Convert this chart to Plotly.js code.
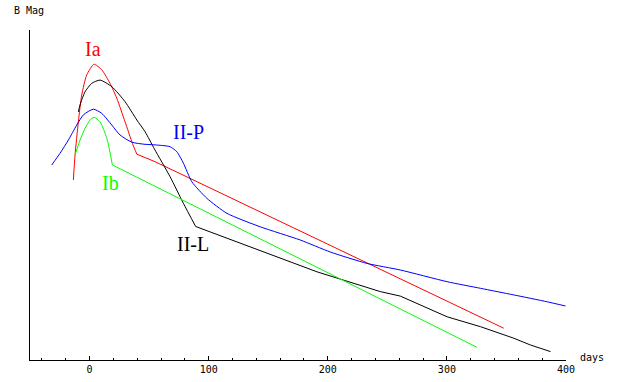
<!DOCTYPE html>
<html>
<head>
<meta charset="utf-8">
<script src="https://cdn.plot.ly/plotly-3.0.1.min.js"></script>
<style>html,body{margin:0;padding:0;background:#fff;}#chart{width:620px;height:382px;}</style>
</head>
<body>
<div id="chart"></div>
<script>
// Light curves: days since maximum vs absolute B magnitude
const iaDays  = [-13.6, -12.2, -9.4, -6.6, -2.4, 3.8, 10.3, 17.2, 22.9, 29.8, 36.0, 39.7, 55.0, 347.7];
const iaMag   = [-16.0, -16.83, -17.94, -18.83, -19.5, -19.86, -19.67, -19.22, -18.72, -17.94, -17.22, -16.86, -16.61, -11.06];

const iilDays = [-9.4, -8.0, -3.8, 1.8, 8.8, 18.7, 29.8, 39.7, 46.6, 54.5, 67.6, 78.8, 89.1, 123.7, 190.9, 244.1, 260.9, 300.2, 328.2, 355.9, 370.2, 387.0];
const iilMag  = [-18.27, -18.5, -18.94, -19.22, -19.33, -19.11, -18.61, -18.0, -17.61, -17.03, -16.11, -15.22, -14.45, -13.94, -12.94, -12.28, -12.13, -11.44, -11.11, -10.73, -10.5, -10.28];

const iipDays = [-31.8, -24.8, -17.8, -10.8, -5.2, 3.2, 10.3, 18.7, 25.6, 35.5, 46.6, 55.0, 67.6, 73.3, 78.8, 85.9, 98.5, 115.3, 143.3, 176.9, 202.1, 232.9, 260.9, 300.2, 328.2, 356.1, 384.2, 399.6];
const iipMag  = [-16.5, -16.89, -17.33, -17.83, -18.17, -18.36, -18.22, -17.83, -17.5, -17.26, -17.19, -17.17, -17.11, -16.94, -16.56, -15.94, -15.39, -14.89, -14.44, -14.0, -13.6, -13.22, -13.0, -12.61, -12.39, -12.17, -11.94, -11.8];

const ibDays  = [-12.2, -8.0, -3.8, 0.4, 3.8, 8.8, 14.5, 19.2, 325.4];
const ibMag   = [-16.83, -17.33, -17.72, -18.0, -18.09, -17.94, -17.39, -16.5, -10.42];

const seriesNames = ['Ia', 'II-L', 'II-P', 'Ib'];
const kneeDays = [39.7, 89.1, null, 19.2];   // where the smooth early part ends and the straight decline starts
const colors = ['#ff0000', '#000000', '#0000ff', '#00ff00'];
const xTickVals = [0, 100, 200, 300, 400];
const xTickText = ['0', '100', '200', '300', '400'];

const W = 620, H = 382, mL = 30, mR = 54, mT = 30, mB = 22;
const pw = W - mL - mR, ph = H - mT - mB;
const px = v => (v - mL) / pw;
const py = v => (H - mB - v) / ph;

const allX = [iaDays, iilDays, iipDays, ibDays];
const allY = [iaMag, iilMag, iipMag, ibMag];
const traces = [];
allX.forEach((xs, i) => {
  const ys = allY[i];
  const k = kneeDays[i] === null ? xs.length - 1 : xs.indexOf(kneeDays[i]);
  traces.push({type: 'scatter', mode: 'lines', hoverinfo: 'skip', name: seriesNames[i],
    x: xs.slice(0, k + 1), y: ys.slice(0, k + 1),
    line: {color: colors[i], width: 1, shape: 'spline', smoothing: 0.6}});
  if (k < xs.length - 1) {
    traces.push({type: 'scatter', mode: 'lines', hoverinfo: 'skip', name: seriesNames[i],
      x: xs.slice(k), y: ys.slice(k),
      line: {color: colors[i], width: 1, shape: 'linear'}});
  }
});

const serif = 'Liberation Serif, Times New Roman, serif';
const mono = 'DejaVu Sans Mono, monospace';

const layout = {
  width: W, height: H,
  margin: {l: mL, r: mR, t: mT, b: mB, pad: 0},
  paper_bgcolor: '#ffffff', plot_bgcolor: '#ffffff',
  showlegend: false,
  xaxis: {
    range: [-50, 400], showgrid: false, zeroline: false,
    showline: true, linecolor: '#000', linewidth: 1,
    ticks: 'inside', ticklen: 4, tickwidth: 1, tickcolor: '#000',
    tickvals: xTickVals, ticktext: xTickText,
    tickfont: {family: mono, size: 10, color: '#000'},
    minor: {dtick: 20, tick0: 0, ticks: 'inside', ticklen: 2, tickwidth: 1, tickcolor: '#000', showgrid: false}
  },
  yaxis: {
    range: [-10, -21], showgrid: false, zeroline: false,
    showline: true, linecolor: '#000', linewidth: 1,
    ticks: '', showticklabels: false
  },
  annotations: [
    {text: 'Ia', x: px(93), y: py(49), font: {family: serif, size: 20, color: '#ff0000'}},
    {text: 'II-P', x: px(188), y: py(132), font: {family: serif, size: 20, color: '#0000ff'}},
    {text: 'Ib', x: px(110), y: py(183), font: {family: serif, size: 20, color: '#00ff00'}},
    {text: 'II-L', x: px(193), y: py(244), font: {family: serif, size: 20, color: '#000000'}},
    {text: 'B Mag', x: px(28.5), y: py(10.5), font: {family: mono, size: 10, color: '#000'}},
    {text: 'days', x: px(591.5), y: py(357), font: {family: mono, size: 10, color: '#000'}}
  ].map(a => Object.assign({xref: 'paper', yref: 'paper', showarrow: false, xanchor: 'center', yanchor: 'middle'}, a))
};

Plotly.newPlot('chart', traces, layout, {staticPlot: true, displayModeBar: false});
</script>
</body>
</html>
